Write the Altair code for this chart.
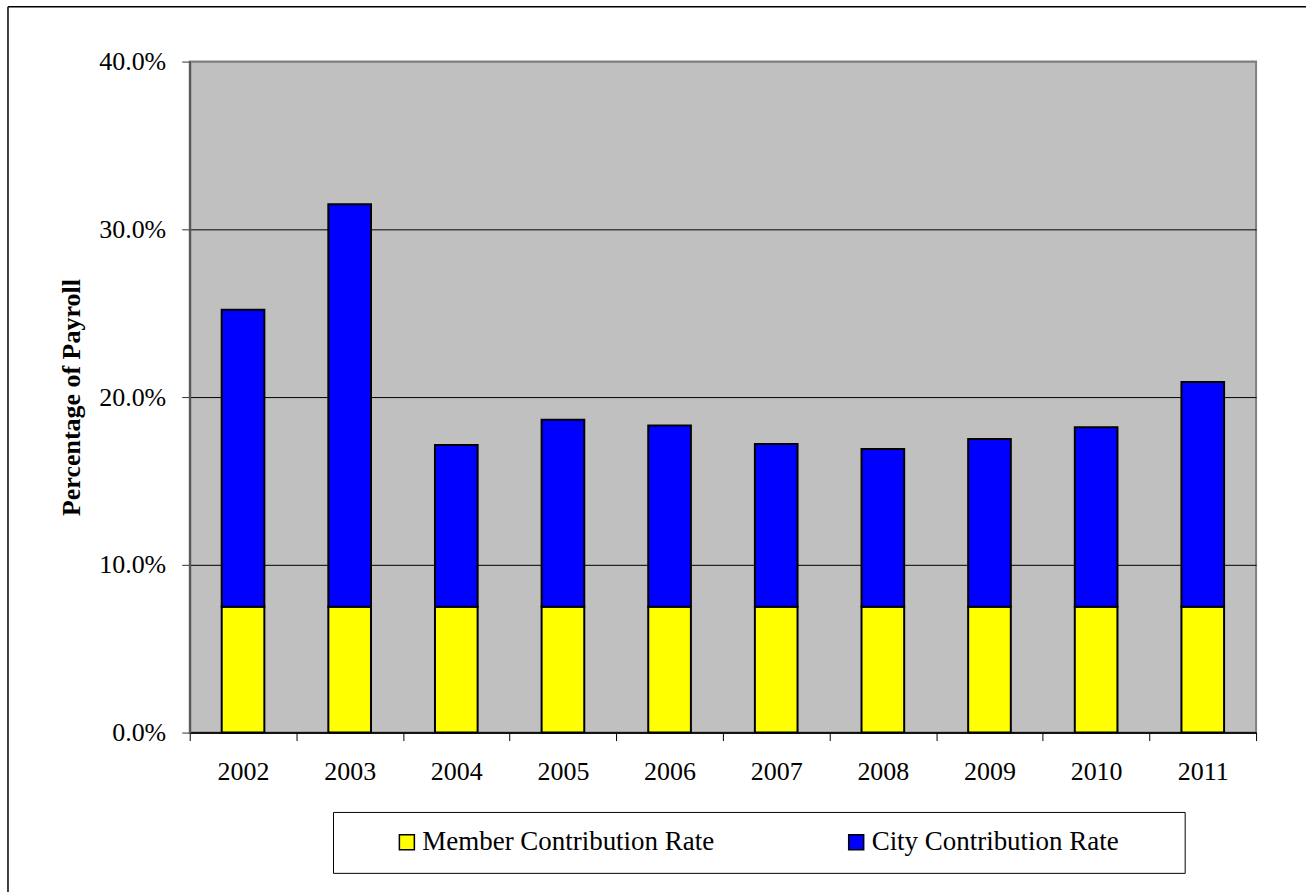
import altair as alt
import pandas as pd

years = ["2002", "2003", "2004", "2005", "2006", "2007", "2008", "2009", "2010", "2011"]
member_rate = [0.075, 0.075, 0.075, 0.075, 0.075, 0.075, 0.075, 0.075, 0.075, 0.075]
city_rate = [0.177, 0.240, 0.0965, 0.1115, 0.108, 0.097, 0.094, 0.100, 0.107, 0.134]
series = ["Member Contribution Rate", "City Contribution Rate"]
colors = ["#FFFF00", "#0000FF"]
y_ticks = [0.0, 0.1, 0.2, 0.3, 0.4]

rows = []
for i, yr in enumerate(years):
    rows.append({"year": yr, "series": series[0], "value": member_rate[i], "order": 0})
    rows.append({"year": yr, "series": series[1], "value": city_rate[i], "order": 1})
df = pd.DataFrame(rows)

FONT = "Liberation Serif"
W, H = 1068, 672

bars = alt.Chart(df).mark_bar(
    stroke="black", strokeWidth=2, width=alt.RelativeBandSize(0.4)
).encode(
    x=alt.X(
        "year:N",
        sort=years,
        scale=alt.Scale(paddingInner=0, paddingOuter=0),
        axis=alt.Axis(
            title=None, labelAngle=0, tickBand="extent", tickSize=8,
            tickColor="black", domainColor="black", domainWidth=1.5,
            labelFont=FONT, labelFontSize=26, labelColor="black",
            labelPadding=18, grid=False,
        ),
    ),
    y=alt.Y(
        "value:Q",
        stack="zero",
        scale=alt.Scale(domain=[0, 0.4], nice=False),
        axis=alt.Axis(
            title="Percentage of Payroll", values=y_ticks, format=".1%",
            tickSize=8, tickColor="#333333", domainColor="#555555", domainWidth=2,
            labelFont=FONT, labelFontSize=26, labelColor="black", labelPadding=16,
            titleFont=FONT, titleFontSize=26, titleFontWeight="bold",
            titleColor="black", titlePadding=14,
            grid=True,
            gridColor={"condition": {"test": "datum.value >= 0.39", "value": "#808080"}, "value": "#000000"},
            gridWidth=1,
        ),
    ),
    color=alt.Color(
        "series:N",
        sort=series,
        scale=alt.Scale(domain=series, range=colors),
        legend=alt.Legend(
            title=None, orient="none", legendX=204, legendY=768,
            direction="horizontal", symbolType="square", symbolSize=225,
            symbolStrokeColor="black", symbolStrokeWidth=1.5,
            labelFont=FONT, labelFontSize=27, labelColor="black", labelLimit=500,
            labelOffset=2, columnPadding=128, padding=0,
        ),
    ),
    order=alt.Order("order:Q"),
)

one = pd.DataFrame({"k": [0]})

legend_box = alt.Chart(one).mark_rect(
    fill="white", fillOpacity=0, stroke="black", strokeWidth=1
).encode(
    x=alt.value(144), x2=alt.value(997), y=alt.value(752), y2=alt.value(813)
)

frame_left = alt.Chart(one).mark_rule(color="black", strokeWidth=1.5).encode(
    x=alt.value(-182), y=alt.value(-55), y2=alt.value(832)
)
frame_top = alt.Chart(one).mark_rule(color="black", strokeWidth=1.5).encode(
    x=alt.value(-182), x2=alt.value(1118), y=alt.value(-55)
)

chart = alt.layer(frame_left, frame_top, legend_box, bars).properties(
    width=W, height=H,
    padding={"left": 7, "top": 5, "right": 0, "bottom": 0},
    background="white",
).configure(
    font=FONT
).configure_view(
    fill="#C0C0C0", stroke="#808080", strokeWidth=2
)

chart.save("out.html", embed_options={"renderer": "svg", "actions": False})
